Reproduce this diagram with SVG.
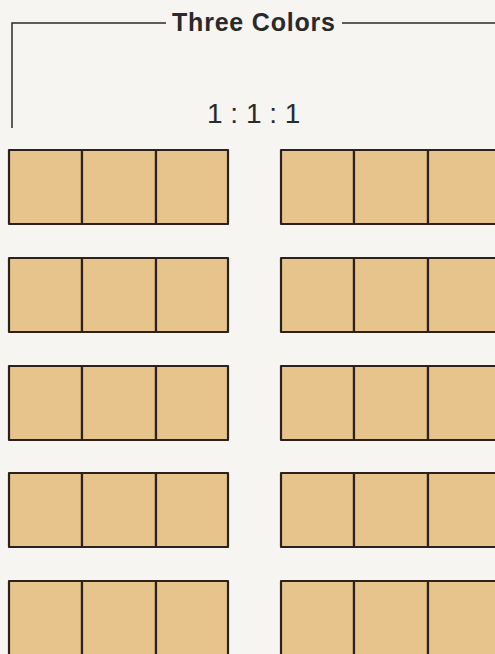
<svg xmlns="http://www.w3.org/2000/svg" width="495" height="654" viewBox="0 0 495 654">
<style>
.bg{fill:#f6f5f2}
.frame{fill:none;stroke:#2a2a2a;stroke-width:1.5}
.cell{fill:#e7c48b;stroke:#2b231b;stroke-width:2.2;stroke-linejoin:round}
.title{font-family:"Liberation Sans",Arial,sans-serif;font-weight:bold;font-size:25px;letter-spacing:0.8px;fill:#2a2a2a}
.ratio{font-family:"Liberation Sans",Arial,sans-serif;font-size:28px;fill:#2a2a2a}
</style>
<defs>
<g id="strip">
<rect class="cell" x="0" y="0" width="73" height="74"/>
<rect class="cell" x="73" y="0" width="74" height="74"/>
<rect class="cell" x="147" y="0" width="72" height="74"/>
</g>
</defs>
<rect class="bg" x="0" y="0" width="495" height="654"/>
<g id="frame">
<path class="frame" d="M12,128 V23 H166 M342,23 H495"/>
<text class="title" x="172" y="31">Three Colors</text>
<text class="ratio" x="207" y="123" xml:space="preserve">1 : 1 : 1</text>
</g>
<g id="left-1"><use href="#strip" x="9" y="150"/></g>
<g id="left-2"><use href="#strip" x="9" y="258"/></g>
<g id="left-3"><use href="#strip" x="9" y="366"/></g>
<g id="left-4"><use href="#strip" x="9" y="473"/></g>
<g id="left-5"><use href="#strip" x="9" y="581"/></g>
<g id="right-1"><use href="#strip" x="281" y="150"/></g>
<g id="right-2"><use href="#strip" x="281" y="258"/></g>
<g id="right-3"><use href="#strip" x="281" y="366"/></g>
<g id="right-4"><use href="#strip" x="281" y="473"/></g>
<g id="right-5"><use href="#strip" x="281" y="581"/></g>
<g id="connectors"/>
</svg>
